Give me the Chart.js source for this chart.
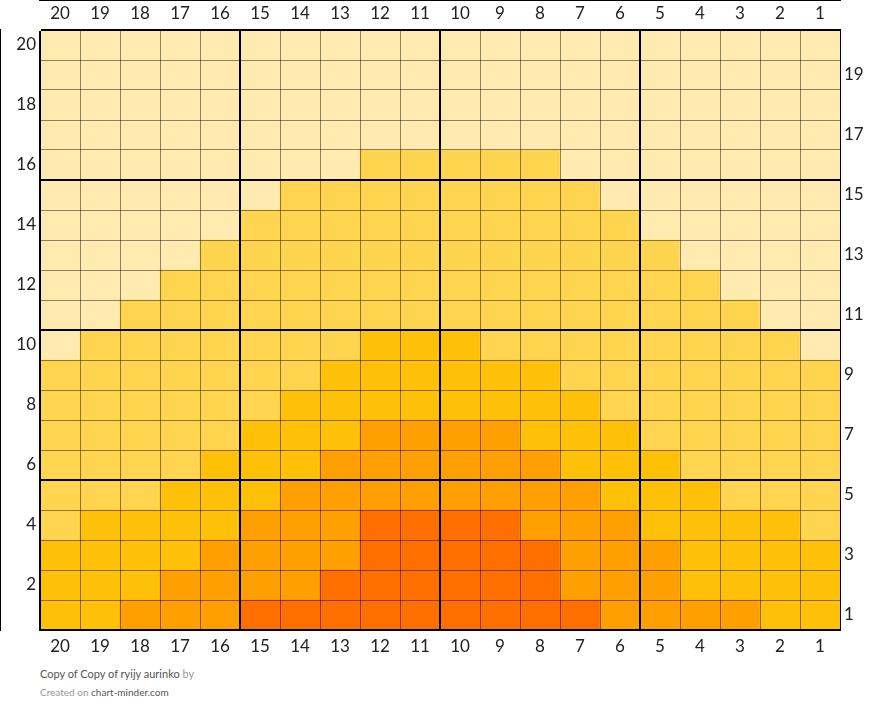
<!DOCTYPE html>
<html><head><meta charset="utf-8">
<script src="https://cdn.jsdelivr.net/npm/chart.js@4"></script>
<style>
body{margin:0;background:#fff;font-family:Lato,sans-serif}
#wrap{position:absolute;left:0;top:0;width:880px;height:660px}
.f{position:absolute;left:40px;font-size:11px;color:#555}
.f span{color:#999}
</style></head><body>
<div id="wrap"><canvas id="c"></canvas></div>
<div class="f" style="top:667px">Copy of Copy of ryijy aurinko <span>by</span></div>
<div class="f" style="top:686px;font-size:10px"><span>Created on </span>chart-minder.com</div>
<script>
const columns = ['20','19','18','17','16','15','14','13','12','11','10','9','8','7','6','5','4','3','2','1'];
const palette = ['#FFEAB0','#FFD550','#FFC107','#FF9F00','#FF6F00'];
// rows from 20 (top) to 1 (bottom); each string is columns 20..1, digit = palette index
const rows = [
'00000000000000000000',
'00000000000000000000',
'00000000000000000000',
'00000000000000000000',
'00000000111110000000',
'00000011111111000000',
'00000111111111100000',
'00001111111111110000',
'00011111111111111000',
'00111111111111111100',
'01111111222111111110',
'11111112222221111111',
'11111122222222111111',
'11111222333322211111',
'11112223333332221111',
'11122233333333222111',
'12222333444433322221',
'22223333444443332222',
'22233334444443332222',
'22333444444444333322'
];
const rowLabels = ['20','19','18','17','16','15','14','13','12','11','10','9','8','7','6','5','4','3','2','1'];

const datasets = [];
for (let r = rows.length - 1; r >= 0; r--) {
  datasets.push({
    label: rowLabels[r],
    data: columns.map(() => 1),
    backgroundColor: rows[r].split('').map(d => palette[+d]),
    borderWidth: 0,
    barPercentage: 1, categoryPercentage: 1,
    xAxisID: 'x', yAxisID: 'y'
  });
}
const gridColor = c => (c.index % 5 === 0) ? '#000' : 'rgba(0,0,0,0.45)';
const gridWidth = c => (c.index % 5 === 0) ? 2 : 1;
const tickFont = {family: 'Lato', size: 17};
const rowCenters = rowLabels.map((l, i) => 20 - i - 0.5);

new Chart(document.getElementById('c'), {
  type: 'bar',
  data: {labels: columns, datasets},
  options: {
    responsive: true, maintainAspectRatio: false, animation: false,
    layout: {padding: {top: 0, bottom: 0, left: 0, right: 0}},
    plugins: {legend: {display: false}, tooltip: {enabled: false}},
    scales: {
      x: {
        type: 'category', position: 'top', stacked: true, offset: true,
        grid: {offset: true, color: gridColor, lineWidth: gridWidth, z: 1, drawTicks: false},
        border: {display: true, color: '#000', width: 2},
        ticks: {font: tickFont, color: '#222', padding: 6},
        afterFit: s => { s.height = 30; }
      },
      x2: {
        type: 'category', position: 'bottom', labels: columns, offset: true,
        grid: {display: false, drawTicks: false},
        border: {display: true, color: '#000', width: 2},
        ticks: {font: tickFont, color: '#222', padding: 6},
        afterFit: s => { s.height = 30; }
      },
      y: {
        type: 'linear', position: 'left', stacked: true, min: 0, max: 20,
        afterBuildTicks: s => { s.ticks = Array.from({length: 21}, (_, i) => ({value: i})); },
        grid: {color: c => (c.tick && c.tick.value % 5 === 0) ? '#000' : 'rgba(0,0,0,0.45)',
               lineWidth: c => (c.tick && c.tick.value % 5 === 0) ? 2 : 1, z: 1, drawTicks: false},
        border: {display: true, color: '#000', width: 2},
        ticks: {display: false},
        afterFit: s => { s.width = 0; }
      },
      yL: {
        type: 'linear', position: 'left', min: 0, max: 20,
        afterBuildTicks: s => { s.ticks = rowCenters.map(v => ({value: v})); },
        ticks: {font: tickFont, color: '#222', padding: 4,
          callback: (v) => { const l = rowLabels[Math.round(20 - v - 0.5)]; return (+l % 2 === 0) ? l : ''; }},
        grid: {display: false, drawTicks: false}, border: {display: false},
        afterFit: s => { s.width = 40; }
      },
      yR: {
        type: 'linear', position: 'right', min: 0, max: 20,
        afterBuildTicks: s => { s.ticks = rowCenters.map(v => ({value: v})); },
        ticks: {font: tickFont, color: '#222', padding: 4,
          callback: (v) => { const l = rowLabels[Math.round(20 - v - 0.5)]; return (+l % 2 === 1) ? l : ''; }},
        grid: {display: false, drawTicks: false},
        border: {display: true, color: '#000', width: 2},
        afterFit: s => { s.width = 40; }
      }
    }
  }
});
</script>
</body></html>
